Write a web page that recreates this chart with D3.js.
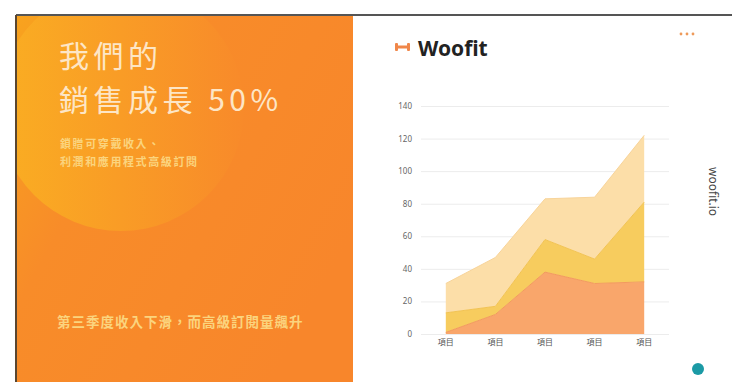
<!DOCTYPE html>
<html>
<head>
<meta charset="utf-8">
<script src="https://cdn.jsdelivr.net/npm/d3@7"></script>
<style>
  body { margin: 0; background: #fff; }
  svg text { font-family: "Noto Sans", "Noto Sans CJK TC", sans-serif; }
</style>
</head>
<body>
<script>
// chart data
var categories = ['項目', '項目', '項目', '項目', '項目'];
var seriesNames = ['A', 'B', 'C'];
var seriesA = [1, 12, 38, 31, 32];
var seriesB = [12, 5, 20, 15, 49];
var seriesC = [18, 30, 25, 38, 41];
var yTicks = [0, 20, 40, 60, 80, 100, 120, 140];

var width = 732,
    height = 382;

var svg = d3.select('body')
  .append('svg')
  .attr('width', width)
  .attr('height', height);

var defs = svg.append('defs');

// background gradient of the orange panel
var bg = defs.append('linearGradient')
  .attr('id', 'bg')
  .attr('x1', 0).attr('y1', 0).attr('x2', 1).attr('y2', 0.6);
bg.append('stop').attr('offset', '0%').attr('stop-color', '#f8a31e');
bg.append('stop').attr('offset', '35%').attr('stop-color', '#f88c29');
bg.append('stop').attr('offset', '100%').attr('stop-color', '#f8862b');

// gradient for the big soft circle
var glow = defs.append('linearGradient')
  .attr('id', 'glow')
  .attr('x1', 0).attr('y1', 0).attr('x2', 1).attr('y2', 0);
glow.append('stop').attr('offset', '0%').attr('stop-color', '#faae22');
glow.append('stop').attr('offset', '100%').attr('stop-color', '#f88a2a');

var clip = defs.append('clipPath').attr('id', 'panelClip');
clip.append('rect').attr('x', 17).attr('y', 16).attr('width', 336).attr('height', 366);

// left panel
svg.append('rect')
  .attr('x', 17).attr('y', 16)
  .attr('width', 336).attr('height', 366)
  .attr('fill', 'url(#bg)');

svg.append('circle')
  .attr('clip-path', 'url(#panelClip)')
  .attr('cx', 121).attr('cy', 108).attr('r', 123)
  .attr('fill', 'url(#glow)');

// frame lines
svg.append('line')
  .attr('x1', 16).attr('x2', width).attr('y1', 15).attr('y2', 15)
  .attr('stroke', '#555').attr('stroke-width', 2);
svg.append('line')
  .attr('x1', 16).attr('x2', 16).attr('y1', 15).attr('y2', height)
  .attr('stroke', '#5a4630').attr('stroke-width', 2);

// headline
var cjk = '"Noto Sans CJK TC", "Noto Sans", sans-serif';
svg.append('text')
  .attr('x', 59).attr('y', 67)
  .style('font-family', cjk)
  .style('font-size', '30px')
  .style('letter-spacing', '4.5px')
  .attr('fill', '#fde6c6')
  .text('我們的');
svg.append('text')
  .attr('x', 59).attr('y', 111)
  .style('font-family', cjk)
  .style('font-size', '30px')
  .style('letter-spacing', '4.5px')
  .attr('fill', '#fde6c6')
  .text('銷售成長 50%');

// sub lines
var sub = svg.append('text')
  .style('font-family', cjk)
  .style('font-size', '11px')
  .style('font-weight', 'bold')
  .style('letter-spacing', '1.6px')
  .attr('fill', '#fbd47e');
sub.append('tspan').attr('x', 60).attr('y', 148).text('鎖贈可穿戴收入、');
sub.append('tspan').attr('x', 60).attr('y', 166).text('利潤和應用程式高級訂閱');

svg.append('text')
  .attr('x', 57).attr('y', 327)
  .style('font-family', cjk)
  .style('font-size', '13.5px')
  .style('font-weight', 'bold')
  .style('letter-spacing', '1px')
  .attr('fill', '#fbd47e')
  .text('第三季度收入下滑，而高級訂閱量飆升');

// logo
var logo = svg.append('g').attr('fill', '#f0874a');
logo.append('rect').attr('x', 395).attr('y', 43).attr('width', 3).attr('height', 8).attr('rx', 1);
logo.append('rect').attr('x', 407).attr('y', 43).attr('width', 3).attr('height', 8).attr('rx', 1);
logo.append('rect').attr('x', 397).attr('y', 45.5).attr('width', 11).attr('height', 3);

svg.append('text')
  .attr('x', 418).attr('y', 56)
  .style('font-size', '21px')
  .style('font-weight', 'bold')
  .attr('fill', '#222')
  .text('Woofit');

// menu dots
svg.append('g')
  .selectAll('circle')
  .data([681, 687, 693])
  .enter()
  .append('circle')
  .attr('cx', function(d) { return d; })
  .attr('cy', 34)
  .attr('r', 1.4)
  .attr('fill', '#ee9a5a');

// scales
var x = d3.scalePoint()
  .domain(d3.range(categories.length))
  .range([421, 669])
  .padding(0.5);

var y = d3.scaleLinear()
  .domain([0, 140])
  .range([334, 106]);

// grid + y labels
var yAxis = svg.append('g')
  .attr('transform', 'translate(421,0)')
  .call(d3.axisLeft(y).tickValues(yTicks).tickSize(-248).tickPadding(9));
yAxis.select('.domain').remove();
yAxis.selectAll('.tick line').attr('stroke', '#ececec');
yAxis.selectAll('.tick text')
  .style('font-size', '8px')
  .attr('fill', '#666');

// stacked areas
var table = categories.map(function(c, i) {
  return { i: i, A: seriesA[i], B: seriesB[i], C: seriesC[i] };
});
var stack = d3.stack().keys(seriesNames);
var layers = stack(table);
var colors = ['#f9a66b', '#f7cc5e', '#fcdea8'];
var strokes = ['#f39a5e', '#f2c353', '#f8d49a'];

var area = d3.area()
  .x(function(d) { return x(d.data.i); })
  .y0(function(d) { return y(d[0]); })
  .y1(function(d) { return y(d[1]); });

var line = d3.line()
  .x(function(d) { return x(d.data.i); })
  .y(function(d) { return y(d[1]); });

svg.append('g')
  .selectAll('path')
  .data(layers)
  .enter()
  .append('path')
  .attr('d', area)
  .attr('fill', function(d, i) { return colors[i]; });

svg.append('g')
  .selectAll('path')
  .data(layers)
  .enter()
  .append('path')
  .attr('d', line)
  .attr('fill', 'none')
  .attr('stroke-width', 1)
  .attr('stroke', function(d, i) { return strokes[i]; });

// x labels
svg.append('g')
  .selectAll('text')
  .data(categories)
  .enter()
  .append('text')
  .attr('x', function(d, i) { return x(i); })
  .attr('y', 345)
  .attr('text-anchor', 'middle')
  .style('font-family', cjk)
  .style('font-size', '8px')
  .attr('fill', '#555')
  .text(function(d) { return d; });

// side label
svg.append('text')
  .attr('transform', 'translate(709,167) rotate(90)')
  .style('font-size', '12px')
  .attr('fill', '#444')
  .text('woofit.io');

// teal dot
svg.append('circle')
  .attr('cx', 698).attr('cy', 369).attr('r', 6)
  .attr('fill', '#1b9aa5');
</script>
</body>
</html>
